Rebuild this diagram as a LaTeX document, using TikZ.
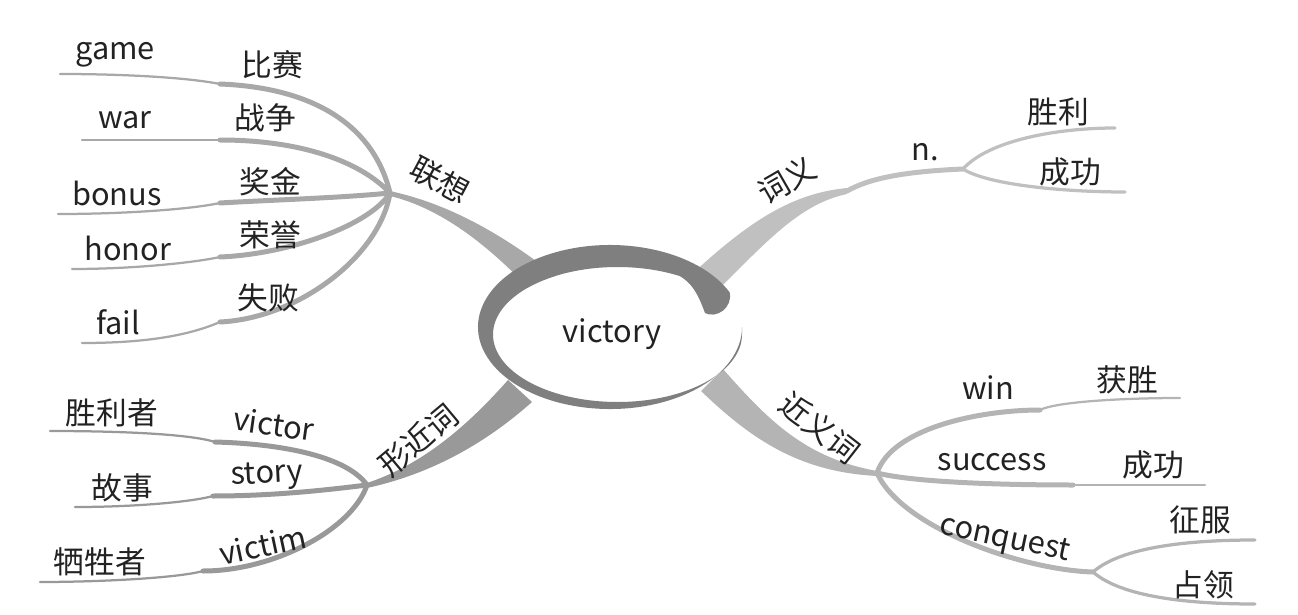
\documentclass[tikz,border=0pt]{standalone}
\usepackage{fontspec}
\setmainfont{Noto Sans CJK SC}
\definecolor{ringgray}{HTML}{7F7F7F}
\definecolor{lxgray}{HTML}{A8A8A8}
\definecolor{xjgray}{HTML}{999999}
\definecolor{cygray}{HTML}{C0C0C0}
\definecolor{jygray}{HTML}{B4B4B4}
\definecolor{txtgray}{HTML}{222222}

\begin{document}
\begin{tikzpicture}[
			x=0.02cm, y=-0.02cm,
			word/.style={
				inner sep=0pt,
				text=txtgray,
				font=\fontsize{17.5}{21}\selectfont
			},
			thickbranch/.style={line width=0.1cm, line cap=round},
			thinbranch/.style={line width=0.045cm, line cap=round},
			midbranch/.style={line width=0.065cm, line cap=round}
			]
			\useasboundingbox (0,0) rectangle (1298,615);
			
			% hubs
			\coordinate (hubL) at (390,193);
			\coordinate (hubX) at (367,485);
			\coordinate (cyK) at (847,191);
			\coordinate (nHub) at (963,169);
			\coordinate (hubJ) at (877,473);
			\coordinate (conqH) at (1093,572);
			
			% main wedges
			\fill[lxgray] (390,191) .. controls (440,202) and (492,226) .. (556,276)
			  -- (536,296) .. controls (488,244) and (440,208) .. (390,196) -- cycle;
			\fill[cygray] (690,276) .. controls (752,218) and (795,193) .. (847,188)
			  -- (847,194) .. controls (800,204) and (768,240) .. (712,296) -- cycle;
			\fill[xjgray] (367,483) .. controls (418,466) and (462,432) .. (508,380)
			  -- (532,402) .. controls (478,450) and (422,476) .. (367,488) -- cycle;
			\fill[jygray] (723,369) .. controls (768,420) and (805,458) .. (877,471)
			  -- (877,476) .. controls (800,472) and (752,440) .. (701,391) -- cycle;
			
			% 联想
			\coordinate (gameK) at (220,84);   \coordinate (gameE) at (60,74);
			\coordinate (warK) at (220,140);   \coordinate (warE) at (82,140);
			\coordinate (bonusK) at (220,203); \coordinate (bonusE) at (58,214);
			\coordinate (honorK) at (220,257); \coordinate (honorE) at (72,269);
			\coordinate (failK) at (220,322);  \coordinate (failE) at (82,343);
			\begin{scope}[draw=lxgray]
			\draw[thickbranch] (hubL) .. controls +(-15,-63) and +(100,4) .. (gameK);
			\draw[thickbranch] (hubL) .. controls +(-30,-32) and +(80,0) .. (warK);
			\draw[thickbranch] (hubL) .. controls +(-50,5) and +(50,-3) .. (bonusK);
			\draw[thickbranch] (hubL) .. controls +(-20,32) and +(70,-3) .. (honorK);
			\draw[thickbranch] (hubL) .. controls +(-10,62) and +(80,-4) .. (failK);
			\draw[thinbranch] (gameK) .. controls +(-30,-6) and +(70,0) .. (gameE);
			\draw[thinbranch] (warK) -- (warE);
			\draw[thinbranch] (bonusK) .. controls +(-28,6) and +(70,0) .. (bonusE);
			\draw[thinbranch] (honorK) .. controls +(-28,6) and +(60,0) .. (honorE);
			\draw[thinbranch] (failK) .. controls +(-28,12) and +(70,0) .. (failE);
			\end{scope}
			
			% 形近词
			\coordinate (victorK) at (215,442); \coordinate (victorE) at (50,431);
			\coordinate (storyK) at (213,496);  \coordinate (storyE) at (75,507);
			\coordinate (victimK) at (203,571); \coordinate (victimE) at (40,582);
			\begin{scope}[draw=xjgray]
			\draw[thickbranch] (hubX) .. controls +(-20,-28) and +(70,2) .. (victorK);
			\draw[thickbranch] (hubX) .. controls +(-40,5) and +(60,0) .. (storyK);
			\draw[thickbranch] (hubX) .. controls +(-15,45) and +(70,0) .. (victimK);
			\draw[thinbranch] (victorK) .. controls +(-25,-8) and +(70,0) .. (victorE);
			\draw[thinbranch] (storyK) .. controls +(-22,6) and +(60,0) .. (storyE);
			\draw[thinbranch] (victimK) .. controls +(-25,7) and +(60,0) .. (victimE);
			\end{scope}
			
			% 词义
			\coordinate (slE) at (1115,128);
			\coordinate (cgE) at (1125,192);
			\begin{scope}[draw=cygray]
			\draw[thickbranch] (cyK) .. controls +(18,-10) and +(-70,3) .. (nHub);
			\draw[midbranch] (nHub) .. controls +(25,-28) and +(-60,0) .. (slE);
			\draw[midbranch] (nHub) .. controls +(25,16) and +(-60,0) .. (cgE);
			\end{scope}
			
			% 近义词
			\coordinate (winK) at (1040,410);     \coordinate (winE) at (1180,398);
			\coordinate (successK) at (1073,485); \coordinate (successE) at (1205,485);
			\coordinate (zfE) at (1255,540);
			\coordinate (zlE) at (1255,604);
			\begin{scope}[draw=jygray]
			\draw[thickbranch] (hubJ) .. controls +(15,-45) and +(-60,0) .. (winK);
			\draw[thickbranch] (hubJ) .. controls +(40,10) and +(-60,0) .. (successK);
			\draw[thickbranch] (hubJ) .. controls +(25,55) and +(-70,-2) .. (conqH);
			\draw[thinbranch] (winK) .. controls +(15,-8) and +(-60,0) .. (winE);
			\draw[thinbranch] (successK) -- (successE);
			\draw[midbranch] (conqH) .. controls +(25,-22) and +(-80,0) .. (zfE);
			\draw[midbranch] (conqH) .. controls +(25,22) and +(-80,0) .. (zlE);
			\end{scope}
			
			% centre
			\fill[white] (617.5,334.5) ellipse[x radius=124.5, y radius=67.5];
			\fill[ringgray] (610,327) ++(-25:132 and 82)
			  arc[start angle=-25, end angle=-360, x radius=132, y radius=82]
			  -- (742,334.5)
			  arc[start angle=-360, end angle=-60, x radius=124.5, y radius=67.5]
			  .. controls (695,285) and (700,300) .. (705,313)
			  .. controls (716,319) and (733,308) .. cycle;
			\node (victory) [word] at (612,334) {victory};
			
			% labels
			\node (lianxiang) [word, rotate=-28] at (440,180) {联想};
			\node (ciyi) [word, rotate=30] at (787,180) {词义};
			\node (xingjinci) [word, rotate=40] at (418,440) {形近词};
			\node (jinyici) [word, rotate=-38] at (820,428) {近义词};
			
			\node (game) [word] at (115,55) {game};
			\node (bisai) [word] at (272,65) {比赛};
			\node (war) [word] at (125,120) {war};
			\node (zhanzheng) [word] at (265,118) {战争};
			\node (bonus) [word] at (117,193) {bonus};
			\node (jiangjin) [word] at (270,182) {奖金};
			\node (honor) [word] at (128,248) {honor};
			\node (rongyu) [word] at (270,235) {荣誉};
			\node (fail) [word] at (118,322) {fail};
			\node (shibai) [word] at (268,298) {失败};
			
			\node (shenglizhe) [word] at (112,413) {胜利者};
			\node (victor) [word, rotate=-8] at (274,424) {victor};
			\node (gushi) [word] at (122,488) {故事};
			\node (story) [word, rotate=3] at (267,476) {story};
			\node (xishengzhe) [word] at (100,562) {牺牲者};
			\node (victim) [word, rotate=12] at (263,545) {victim};
			
			\node (npos) [word] at (925,152) {n.};
			\node (shengli) [word] at (1058,112) {胜利};
			\node (chenggong) [word] at (1070,172) {成功};
			
			\node (win) [word] at (988,388) {win};
			\node (huosheng) [word] at (1127,380) {获胜};
			\node (success) [word] at (992,462) {success};
			\node (chenggong2) [word] at (1153,465) {成功};
			\node (conquest) [word, rotate=-12] at (1005,540) {conquest};
			\node (zhengfu) [word] at (1200,520) {征服};
			\node (zhanling) [word] at (1203,585) {占领};
			
		\end{tikzpicture}
\end{document}
